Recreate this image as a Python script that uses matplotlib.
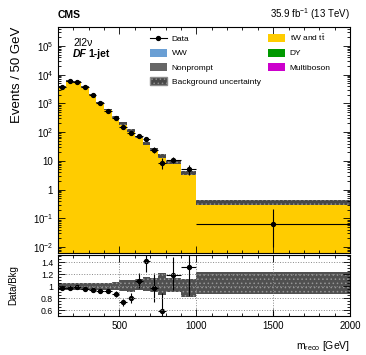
import numpy as np
import matplotlib
matplotlib.use("Agg")
import matplotlib.pyplot as plt
from matplotlib.patches import Patch
from matplotlib.lines import Line2D
from matplotlib.ticker import FixedLocator, MultipleLocator, NullFormatter

plt.rcParams['font.family'] = ['Liberation Sans', 'DejaVu Sans']
plt.rcParams['mathtext.fontset'] = 'custom'
plt.rcParams['mathtext.rm'] = 'Liberation Sans'
plt.rcParams['mathtext.it'] = 'Liberation Sans:italic'
plt.rcParams['mathtext.bf'] = 'Liberation Sans:bold'
plt.rcParams['hatch.linewidth'] = 0.6

# ---------------- data ----------------
bin_edges = [100, 150, 200, 250, 300, 350, 400, 450, 500, 550, 600, 650, 700, 750, 800, 900, 1000, 2000]
data_vals = [3800, 6000, 5500, 3600, 1900, 1000, 560, 300, 145, 92, 72, 57, 24, 8.5, 10.5, 5.0, 0.062]
data_err_lo = [62, 77, 74, 60, 44, 32, 24, 17, 12, 9.6, 8.5, 7.5, 6, 3.2, 2.3, 1.8, 0.052]
data_err_hi = [62, 77, 74, 60, 44, 32, 24, 17, 12, 9.6, 8.5, 7.5, 6, 4.5, 2.6, 2.2, 0.14]
mc_tw_tt = [3918, 6186, 5612, 3789, 2043, 1087, 609, 345, 199, 115, 66, 40, 24.7, 14.7, 8.8, 3.8, 0.35]
unc_up = [0.06, 0.06, 0.06, 0.06, 0.06, 0.06, 0.06, 0.07, 0.11, 0.11, 0.12, 0.15, 0.14, 0.22, 0.14, 0.12, 0.24]
unc_dn = [0.07, 0.07, 0.07, 0.07, 0.07, 0.07, 0.07, 0.07, 0.08, 0.10, 0.06, 0.08, 0.10, 0.15, 0.10, 0.18, 0.14]

main_ticks = [1e-2, 1e-1, 1, 10, 1e2, 1e3, 1e4, 1e5]
main_tick_labels = ["$10^{-2}$", "$10^{-1}$", "1", "10", "$10^{2}$", "$10^{3}$", "$10^{4}$", "$10^{5}$"]
ratio_ticks = [0.6, 0.8, 1.0, 1.2, 1.4]
ratio_tick_labels = ["0.6", "0.8", "1", "1.2", "1.4"]
x_ticks = [500, 1000, 1500, 2000]
x_tick_labels = ["500", "1000", "1500", "2000"]
legend_labels = ["Data", "WW", "Nonprompt", "Background uncertainty",
                 "tW and t$\\bar{\\mathrm{t}}$", "DY", "Multiboson"]
colors = {"tw": "#ffcc00", "ww": "#6a9fd4", "np": "#666666", "dy": "#009900", "vvv": "#cc00cc"}

edges = np.array(bin_edges, float)
centers = 0.5 * (edges[:-1] + edges[1:])
halfw = 0.5 * (edges[1:] - edges[:-1])
data = np.array(data_vals)
elo = np.array(data_err_lo)
ehi = np.array(data_err_hi)
mc = np.array(mc_tw_tt)
up = np.array(unc_up)
dn = np.array(unc_dn)

W, H = 366, 355
fig = plt.figure(figsize=(W / 100, H / 100), dpi=100)

def fx(px):
    return px / W
def fy(py):
    return 1 - py / H

axL, axR = 58, 350
ax = fig.add_axes([fx(axL), fy(253), fx(axR) - fx(axL), fy(27) - fy(253)])
rax = fig.add_axes([fx(axL), fy(316), fx(axR) - fx(axL), fy(255) - fy(316)])

band_face = "#484848"
band_hatch = "#8c8c8c"

ylo, yhi = 10 ** -2.21, 10 ** 5.66

# ---- top panel ----
ax.stairs(mc, edges, baseline=1e-5, fill=True, color=colors["tw"], lw=0)
ax.stairs(mc * (1 + up), edges, baseline=mc * (1 - dn), fill=True,
          facecolor=band_face, edgecolor=band_hatch, hatch="....", lw=0)
ax.errorbar(centers, data, xerr=halfw, yerr=[elo, ehi], fmt="o", color="black",
            ms=2.8, lw=0.8, capsize=0, elinewidth=0.8)
ax.set_yscale("log")
ax.set_xlim(100, 2000)
ax.set_ylim(ylo, yhi)

ax.set_yticks(main_ticks)
ax.set_yticklabels(main_tick_labels)
minor_y = [m * 10.0 ** e for e in range(-3, 6) for m in range(2, 10)]
minor_y = [v for v in minor_y if ylo <= v <= yhi]
ax.yaxis.set_minor_locator(FixedLocator(minor_y))
ax.yaxis.set_minor_formatter(NullFormatter())
ax.set_xticks(x_ticks)
ax.xaxis.set_minor_locator(FixedLocator(list(range(100, 2001, 100))))
ax.tick_params(axis="x", which="both", labelbottom=False)
for a in (ax, rax):
    a.tick_params(which="both", direction="in", top=True, right=True, width=0.6)
    a.tick_params(which="major", length=5, labelsize=7)
    a.tick_params(which="minor", length=2.5)
    for s in a.spines.values():
        s.set_linewidth(0.8)

ax.set_ylabel("Events / 50 GeV", fontsize=9.5, loc="top", labelpad=7)

handles = [
    Line2D([0], [0], color="black", marker="o", ms=2.8, lw=0.8),
    Patch(facecolor=colors["ww"], edgecolor="none"),
    Patch(facecolor=colors["np"], edgecolor="none"),
    Patch(facecolor=band_face, edgecolor=band_hatch, hatch="...."),
    Patch(facecolor=colors["tw"], edgecolor="none"),
    Patch(facecolor=colors["dy"], edgecolor="none"),
    Patch(facecolor=colors["vvv"], edgecolor="none"),
]
ax.legend(handles, legend_labels, ncol=2, loc="upper left",
          bbox_to_anchor=((150 - axL) / (axR - axL), 0.975),
          frameon=False, fontsize=6, handlelength=2.0, handleheight=1.1,
          handletextpad=0.6, labelspacing=0.65, columnspacing=0.9,
          borderpad=0, borderaxespad=0)

fig.text(fx(58), fy(18), "CMS", fontsize=7.5, weight="bold", ha="left", va="baseline")
fig.text(fx(350), fy(18), "35.9 fb$^{-1}$ (13 TeV)", fontsize=7, ha="right", va="baseline")
fig.text(fx(73), fy(46), "2l2\u03bd", fontsize=7.5, ha="left", va="baseline")
fig.text(fx(73), fy(57), "DF", fontsize=7.5, weight="bold", style="italic", ha="left", va="baseline")
fig.text(fx(88), fy(57), "1-jet", fontsize=7.5, weight="bold", ha="left", va="baseline")

# ---- ratio panel ----
ratio = data / mc
rlo = elo / mc
rhi = ehi / mc
rax.stairs(1 + up, edges, baseline=1 - dn, fill=True,
           facecolor="#505050", edgecolor="#969696", hatch="....", lw=0)
rax.errorbar(centers, ratio, xerr=halfw, yerr=[rlo, rhi], fmt="o", color="black",
             ms=2.8, lw=0.8, capsize=0, elinewidth=0.8)
rax.set_xlim(100, 2000)
rax.set_ylim(0.5, 1.52)
rax.set_yticks(ratio_ticks)
rax.set_yticklabels(ratio_tick_labels, fontsize=6.3)
minor_r = [round(0.5 + 0.05 * i, 2) for i in range(21)]
minor_r = [m for m in minor_r if all(abs(m - t) > 1e-6 for t in ratio_ticks)]
rax.yaxis.set_minor_locator(FixedLocator(minor_r))
rax.yaxis.set_minor_formatter(NullFormatter())
rax.set_xticks(x_ticks)
rax.set_xticklabels(x_tick_labels)
rax.xaxis.set_minor_locator(FixedLocator([v for v in range(100, 2001, 100) if v % 500]))
rax.xaxis.set_minor_formatter(NullFormatter())
rax.grid(True, which="major", linestyle=":", color="#888888", lw=0.7)
rax.set_axisbelow(False)
rax.set_ylabel("Data/Bkg", fontsize=7)
rax.yaxis.set_label_coords(-0.135, 0.5)
rax.set_xlabel("m$_{\\mathrm{reco}}$ [GeV]", fontsize=7.5, loc="right", labelpad=6)

fig.savefig("out.png", dpi=100)
